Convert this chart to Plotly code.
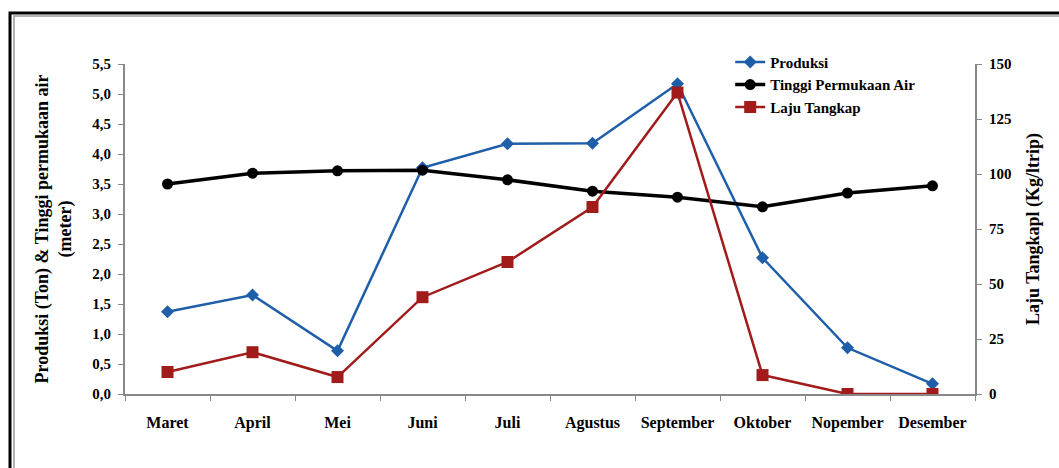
import plotly.graph_objects as go

months = ["Maret", "April", "Mei", "Juni", "Juli", "Agustus",
          "September", "Oktober", "Nopember", "Desember"]
produksi = [1.37, 1.65, 0.72, 3.77, 4.17, 4.18, 5.17, 2.27, 0.77, 0.17]
tinggi_air = [3.50, 3.68, 3.72, 3.73, 3.57, 3.38, 3.28, 3.12, 3.35, 3.47]
laju_tangkap = [10, 19, 7.7, 44, 60, 85, 137, 8.6, 0, 0]

left_ticks = [i * 0.5 for i in range(12)]
right_ticks = [0, 25, 50, 75, 100, 125, 150]

FONT = "Liberation Serif, serif"

fig = go.Figure()
fig.add_trace(go.Scatter(
    x=months, y=produksi, name="<b>Produksi</b>", mode="lines+markers",
    line=dict(color="#1f5ea8", width=2.5),
    marker=dict(symbol="diamond", size=10, color="#1f5ea8"),
))
fig.add_trace(go.Scatter(
    x=months, y=tinggi_air, name="<b>Tinggi Permukaan Air</b>", mode="lines+markers",
    line=dict(color="black", width=3.5),
    marker=dict(symbol="circle", size=11, color="black"),
))
fig.add_trace(go.Scatter(
    x=months, y=laju_tangkap, name="<b>Laju Tangkap</b>", mode="lines+markers",
    yaxis="y2",
    line=dict(color="#a11b1b", width=2.5),
    marker=dict(symbol="square", size=12, color="#a11b1b"),
))

x_tick_font = dict(family=FONT, size=16, color="black", weight="bold")
y_tick_font = dict(family=FONT, size=15, color="black", weight="bold")
title_font = dict(family=FONT, size=18, color="black", weight="bold")

fig.update_layout(
    width=1059, height=468,
    margin=dict(l=125, r=84, t=64, b=74),
    paper_bgcolor="white", plot_bgcolor="white",
    separators=", ",
    font=dict(family=FONT, color="black"),
    showlegend=True,
    legend=dict(
        x=0.712, y=1.055, xanchor="left", yanchor="top",
        bgcolor="rgba(0,0,0,0)",
        font=dict(family=FONT, size=15, color="black"),
        tracegroupgap=0, itemwidth=30,
    ),
    xaxis=dict(
        type="category", range=[-0.5, 9.5],
        showline=True, linecolor="#888888", linewidth=2,
        ticks="outside", tickson="boundaries", ticklen=5, tickcolor="#888888",
        tickfont=x_tick_font, ticklabelstandoff=13,
        showgrid=False, zeroline=False,
    ),
    yaxis=dict(
        range=[0, 5.5], tickvals=left_ticks, tickformat=".1f",
        showline=True, linecolor="#888888", linewidth=2,
        ticks="outside", ticklen=5, tickcolor="#888888",
        tickfont=y_tick_font, ticklabelstandoff=4,
        showgrid=False, zeroline=False,
        title=dict(
            text="Produksi (Ton) & Tinggi permukaan air<br>(meter)",
            font=title_font, standoff=16,
        ),
    ),
    yaxis2=dict(
        range=[0, 150], tickvals=right_ticks, overlaying="y", side="right",
        showline=True, linecolor="#888888", linewidth=2,
        ticks="outside", ticklen=5, tickcolor="#888888",
        tickfont=y_tick_font, ticklabelstandoff=4,
        showgrid=False, zeroline=False,
        title=dict(text="Laju Tangkapl (Kg/ltrip)", font=title_font, standoff=16),
    ),
)

# Double frame around the figure (black outer line with a grey inner line)
fig.add_shape(type="rect", xref="paper", yref="paper",
              x0=-0.1353, x1=1.2, y0=-0.3, y1=1.1545,
              line=dict(color="black", width=3), layer="below")
fig.add_shape(type="rect", xref="paper", yref="paper",
              x0=-0.1306, x1=1.2, y0=-0.3, y1=1.1455,
              line=dict(color="#9a9a9a", width=1.5), layer="below")

fig.write_html("out.html")
